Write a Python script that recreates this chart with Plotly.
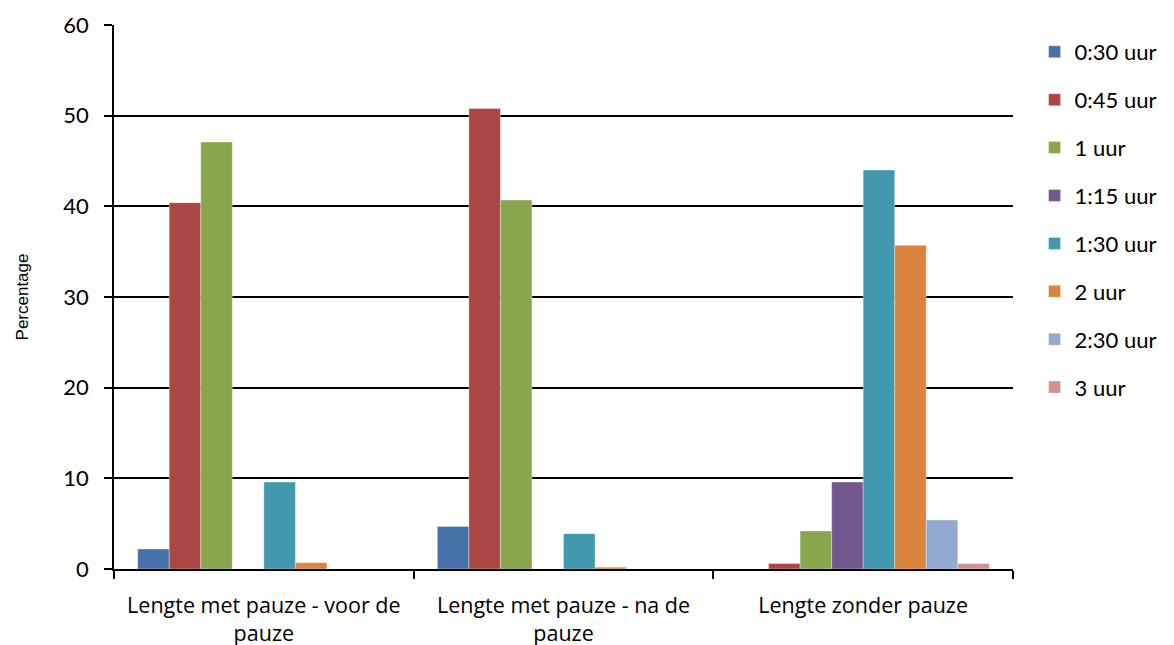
import plotly.graph_objects as go

categories = ["Lengte met pauze - voor de<br>pauze", "Lengte met pauze - na de<br>pauze", "Lengte zonder pauze"]
series_names = ["0:30 uur", "0:45 uur", "1 uur", "1:15 uur", "1:30 uur", "2 uur", "2:30 uur", "3 uur"]
v_030 = [2.2, 4.7, 0.0]
v_045 = [40.4, 50.8, 0.6]
v_1 = [47.1, 40.7, 4.2]
v_115 = [0.0, 0.0, 9.6]
v_130 = [9.6, 3.9, 44.0]
v_2 = [0.7, 0.2, 35.7]
v_230 = [0.0, 0.0, 5.4]
v_3 = [0.0, 0.0, 0.6]
series_values = [v_030, v_045, v_1, v_115, v_130, v_2, v_230, v_3]
colors = ["#4572A7", "#AA4643", "#89A54E", "#71588F", "#4198AF", "#DB843D", "#93A9CF", "#D19392"]

font_family = "Lato, 'Open Sans', sans-serif"

fig = go.Figure()
for name, vals, col in zip(series_names, series_values, colors):
    fig.add_trace(go.Bar(
        x=categories, y=vals, name=name, legendgroup=name,
        marker=dict(color=col, line=dict(color="rgba(255,255,255,0.35)", width=1)),
    ))

fig.update_layout(
    width=1174, height=645,
    margin=dict(l=114, r=159, t=25, b=76),
    paper_bgcolor="white", plot_bgcolor="white",
    barmode="group", bargap=0.158, bargroupgap=0,
    font=dict(family=font_family, size=22, color="black"),
    legend=dict(x=1.024, y=0.989, xanchor="left", yanchor="top",
                bgcolor="rgba(0,0,0,0)",
                tracegroupgap=16.3, font=dict(size=22, family=font_family)),
    showlegend=True,
)
fig.update_yaxes(
    range=[0, 60], dtick=10, showline=True, linecolor="black", linewidth=1.5,
    ticks="outside", ticklen=8, tickcolor="black", tickwidth=1.5,
    showgrid=True, gridcolor="black", gridwidth=1.5, zeroline=False,
    ticklabelstandoff=11, automargin=False,
    title=dict(text="Percentage", font=dict(family="'Liberation Sans', Arial, sans-serif", size=17), standoff=30),
    tickfont=dict(size=22),
)
fig.update_xaxes(
    showline=True, linecolor="black", linewidth=1.5,
    ticks="outside", tickson="boundaries", ticklen=8, tickcolor="black", tickwidth=1.5,
    showgrid=False, ticklabelstandoff=16, automargin=False,
    tickfont=dict(size=21.5, family="'Open Sans', Lato, sans-serif"),
)

fig.write_html("out.html", config={"displayModeBar": False},
               post_script="document.body.style.margin='0';")
